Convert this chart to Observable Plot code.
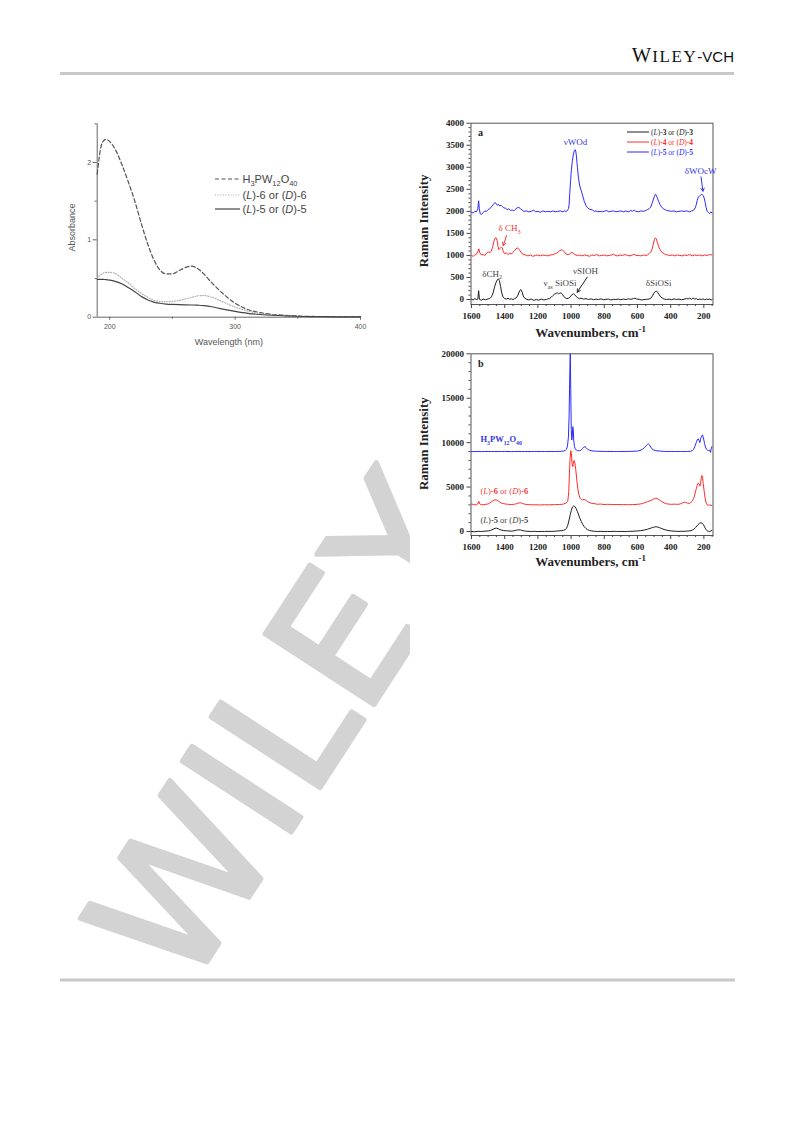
<!DOCTYPE html>
<html><head><meta charset="utf-8">
<script src="https://cdn.jsdelivr.net/npm/d3@7"></script>
<script src="https://cdn.jsdelivr.net/npm/@observablehq/plot@0.6"></script>
<style>
html,body{margin:0;padding:0;background:#fff;}
#page{position:relative;width:793px;height:1121px;overflow:hidden;background:#fff;}
.abs{position:absolute;}
.raman g[aria-label="x-axis tick label"] text,.raman g[aria-label="y-axis tick label"] text{font-weight:bold;}
</style></head><body><div id="page"></div>
<script>
// ---------------- DATA ----------------
// UV-vis (left)
const uvWavelength = [190,193,195,197,200,205,210,215,220,225,230,235,240,245,250,255,260,265,270,275,280,290,300,310,320,330,340,350,360,380,400];
const uvH3PW12O40  = [1.85,2.2,2.28,2.3,2.27,2.15,1.96,1.74,1.5,1.22,0.96,0.75,0.61,0.56,0.56,0.6,0.64,0.66,0.63,0.56,0.47,0.31,0.18,0.1,0.06,0.035,0.025,0.015,0.01,0.008,0.006];
const uvL6         = [0.5,0.55,0.57,0.58,0.58,0.56,0.5,0.44,0.37,0.31,0.26,0.22,0.205,0.2,0.205,0.215,0.235,0.255,0.275,0.28,0.265,0.2,0.13,0.08,0.05,0.03,0.02,0.012,0.008,0.005,0.005];
const uvL5         = [0.49,0.49,0.49,0.485,0.48,0.46,0.43,0.38,0.33,0.27,0.225,0.195,0.18,0.17,0.165,0.162,0.16,0.158,0.155,0.15,0.138,0.105,0.075,0.05,0.035,0.025,0.018,0.012,0.008,0.005,0.004];
const uvXTicks = [200,300,400];
const uvXMinor = [250,350];
const uvYTicks = [0,1,2];
const uvYMinor = [0.5,1.5,2.5];
const uvLegend = ["H{d:3}PW{d:12}O{d:40}","({i:L})-6 or ({i:D})-6","({i:L})-5 or ({i:D})-5"];

// Raman a  [wavenumber, intensity]
const ramanA_L3 = [[1600,10],[1590,-10],[1580,20],[1570,0],[1562,10],[1557,200],[1552,5],[1540,-15],[1530,10],[1515,-5],[1500,15],[1490,20],[1480,60],[1470,150],[1460,300],[1452,390],[1445,440],[1438,470],[1432,430],[1425,300],[1418,150],[1410,60],[1400,20],[1390,10],[1380,30],[1370,5],[1360,15],[1350,0],[1340,20],[1330,40],[1320,100],[1310,200],[1302,225],[1295,170],[1288,80],[1280,30],[1270,10],[1255,-10],[1240,10],[1225,-20],[1210,0],[1195,-15],[1180,10],[1165,-10],[1150,0],[1140,15],[1130,20],[1120,50],[1110,90],[1100,120],[1090,140],[1082,150],[1075,130],[1068,145],[1060,150],[1052,120],[1045,70],[1035,40],[1025,20],[1015,30],[1005,60],[995,110],[985,130],[978,110],[970,70],[960,40],[950,20],[940,30],[925,10],[910,20],[895,0],[880,15],[865,-5],[850,10],[835,0],[820,15],[805,-5],[790,5],[775,10],[760,-10],[745,5],[730,0],[715,10],[700,-5],[685,10],[670,0],[655,15],[640,5],[625,20],[615,30],[605,10],[590,5],[575,-10],[560,0],[545,5],[530,10],[520,30],[510,80],[500,150],[492,185],[485,190],[478,160],[470,110],[460,60],[450,30],[440,10],[425,0],[410,10],[395,-5],[380,15],[365,0],[350,10],[335,-5],[320,5],[305,25],[295,10],[285,30],[275,5],[265,35],[255,10],[245,20],[235,-5],[225,10],[215,0],[205,15],[195,-5],[185,10],[175,0],[165,10],[155,-10],[148,5]];
const ramanA_L4 = [[1600,1000],[1590,980],[1580,1010],[1570,1030],[1562,1080],[1556,1150],[1550,1060],[1540,1010],[1530,1020],[1520,1000],[1510,1050],[1500,1080],[1490,1060],[1480,1100],[1472,1200],[1465,1320],[1458,1390],[1452,1400],[1446,1340],[1440,1200],[1435,1130],[1428,1160],[1420,1190],[1414,1170],[1408,1080],[1400,1040],[1390,1060],[1380,1020],[1370,1050],[1360,1030],[1350,1070],[1340,1110],[1332,1150],[1325,1170],[1318,1160],[1310,1120],[1300,1060],[1290,1030],[1275,1010],[1260,990],[1245,1010],[1230,980],[1215,1000],[1200,1010],[1185,990],[1170,1010],[1155,1000],[1140,990],[1125,1010],[1110,1020],[1095,1040],[1080,1070],[1068,1110],[1058,1125],[1050,1120],[1040,1080],[1030,1030],[1020,1020],[1010,1030],[1000,1060],[994,1075],[988,1050],[978,1020],[965,1000],[950,1010],[935,990],[920,1010],[905,1000],[890,980],[875,1010],[860,1000],[845,1020],[830,990],[815,1000],[800,1010],[785,990],[770,1000],[755,1010],[745,1030],[735,1000],[720,990],[705,1010],[690,1000],[675,1020],[660,1000],[645,990],[630,1010],[620,1030],[610,1000],[595,1000],[580,990],[565,1010],[550,1000],[540,1010],[530,1040],[520,1080],[512,1140],[505,1250],[498,1360],[492,1400],[486,1370],[480,1290],[472,1200],[465,1140],[458,1100],[450,1060],[440,1040],[430,1020],[420,1010],[405,1000],[390,1010],[375,990],[360,1010],[345,1000],[330,990],[315,1010],[300,1000],[285,1020],[270,990],[255,1010],[240,1000],[225,1010],[210,990],[195,1010],[180,1000],[165,1020],[150,1010]];
const ramanA_L5 = [[1600,1980],[1590,1960],[1580,2000],[1570,1990],[1562,2050],[1557,2240],[1553,2060],[1548,1950],[1540,1930],[1530,1970],[1520,2010],[1510,2000],[1500,2040],[1490,2060],[1480,2100],[1470,2150],[1460,2200],[1452,2180],[1445,2140],[1438,2160],[1430,2120],[1422,2140],[1415,2110],[1405,2080],[1395,2070],[1385,2040],[1375,2060],[1365,2020],[1355,2030],[1345,2010],[1335,2050],[1325,2080],[1315,2090],[1305,2060],[1295,2030],[1285,2000],[1270,2010],[1255,1990],[1240,2000],[1225,2030],[1215,1990],[1200,2000],[1185,1980],[1170,2010],[1155,1990],[1140,2000],[1125,1990],[1110,2010],[1095,1990],[1080,2000],[1065,2010],[1050,1990],[1040,2010],[1030,2000],[1022,2020],[1016,2060],[1012,2150],[1008,2400],[1003,2700],[998,2950],[992,3150],[986,3300],[980,3380],[976,3400],[972,3370],[968,3260],[962,3000],[956,2780],[950,2620],[944,2530],[938,2460],[930,2350],[920,2220],[910,2130],[900,2080],[890,2050],[880,2040],[870,2030],[860,2000],[850,2010],[840,1990],[825,2000],[810,1990],[795,2010],[785,2020],[775,1990],[760,2000],[745,2010],[730,1990],[715,2000],[700,2010],[685,1990],[670,2010],[655,1990],[640,2020],[630,2000],[620,2030],[610,2000],[595,1990],[580,2010],[565,2000],[550,2020],[540,2040],[530,2060],[520,2100],[512,2180],[505,2260],[498,2340],[492,2390],[486,2360],[480,2300],[472,2220],[465,2160],[455,2100],[445,2060],[435,2040],[425,2020],[410,2010],[395,2000],[380,2010],[365,1990],[350,2000],[335,2010],[320,2000],[305,2010],[295,2000],[285,1990],[275,2010],[265,2020],[258,2040],[252,2080],[246,2150],[240,2250],[234,2320],[228,2340],[222,2360],[216,2380],[210,2380],[204,2360],[198,2300],[192,2200],[186,2080],[180,2000],[172,1970],[165,1950],[158,1990],[150,1960]];
const ramanXTicks = [1600,1400,1200,1000,800,600,400,200];
const ramanAYTicks = [0,500,1000,1500,2000,2500,3000,3500,4000];
const ramanALegend = ["({i:L})-{b:3} or ({i:D})-{b:3}","({i:L})-{b:4} or ({i:D})-{b:4}","({i:L})-{b:5} or ({i:D})-{b:5}"];
const ramanAAnnotations = [
  {w:973, i:3569, label:"νWOd", color:"#3535e0", anchor:"middle"},
  {w:220, i:2911, label:"δWOcW", color:"#3535e0", anchor:"middle"},
  {w:1371, i:1611, label:"δ CH{d:3}", color:"#f03a3a", anchor:"middle"},
  {w:1475, i:583, label:"δCH{d:2}", color:"#444", anchor:"middle"},
  {w:1166, i:363, label:"ν{d:as} SiOSi", color:"#444", anchor:"start"},
  {w:913, i:642, label:"νSIOH", color:"#444", anchor:"middle"},
  {w:473, i:370, label:"δSiOSi", color:"#444", anchor:"middle"}
];
const ramanAArrows = [
  {w1:217, i1:2782, w2:206, i2:2457, color:"#3535e0"},
  {w1:1389, i1:1452, w2:1409, i2:1225, color:"#f03a3a"},
  {w1:903, i1:506, w2:963, i2:166, color:"#222"}
];

// Raman b
const ramanB_L5 = [[1600,0],[1580,-30],[1560,20],[1540,0],[1520,40],[1500,60],[1485,120],[1470,250],[1458,360],[1450,380],[1440,320],[1430,220],[1420,160],[1405,100],[1390,80],[1375,60],[1360,40],[1345,80],[1330,150],[1318,190],[1305,170],[1290,100],[1275,40],[1260,20],[1240,0],[1220,20],[1200,-10],[1180,10],[1160,0],[1140,20],[1120,10],[1100,30],[1080,60],[1060,90],[1045,140],[1035,220],[1028,350],[1020,700],[1012,1300],[1005,1900],[998,2400],[992,2750],[985,2870],[978,2820],[970,2600],[962,2250],[954,1850],[946,1450],[938,1100],[930,800],[920,520],[910,330],[900,200],[890,120],[875,60],[860,30],[840,0],[820,20],[800,-10],[780,10],[760,0],[740,20],[720,0],[700,10],[680,-10],[660,10],[640,20],[620,40],[600,60],[580,100],[560,160],[540,250],[525,350],[510,440],[498,510],[488,530],[478,500],[466,420],[454,330],[440,230],[425,150],[410,90],[395,60],[380,40],[365,20],[350,10],[335,30],[320,20],[305,40],[290,60],[278,100],[268,180],[258,300],[250,450],[242,620],[235,770],[228,900],[222,970],[216,980],[210,930],[204,800],[198,600],[192,380],[186,200],[180,80],[172,20],[165,0],[158,60],[152,120]];
const ramanB_L6 = [[1600,3100],[1590,3050],[1580,3000],[1570,3020],[1562,3100],[1556,3400],[1550,3100],[1540,3000],[1530,3020],[1515,3050],[1500,3100],[1490,3200],[1480,3350],[1470,3480],[1460,3560],[1450,3560],[1440,3450],[1430,3300],[1420,3200],[1405,3120],[1390,3080],[1375,3050],[1360,3040],[1345,3060],[1330,3120],[1318,3200],[1305,3230],[1292,3150],[1280,3080],[1265,3040],[1250,3020],[1235,3000],[1220,3010],[1205,3000],[1190,2990],[1175,3000],[1160,3010],[1145,3000],[1130,3010],[1115,3020],[1100,3020],[1085,3030],[1070,3040],[1055,3060],[1045,3100],[1030,3200],[1020,3400],[1014,4500],[1010,6500],[1006,8200],[1002,9100],[998,8800],[994,7600],[990,7300],[986,7700],[982,8000],[978,7800],[972,7000],[966,5900],[960,4900],[954,4200],[946,3750],[938,3600],[930,3560],[922,3600],[914,3560],[906,3450],[895,3300],[882,3200],[868,3150],[855,3120],[840,3060],[825,3100],[810,3050],[795,3040],[780,3060],[765,3050],[750,3040],[735,3030],[720,3040],[705,3030],[690,3020],[675,3030],[660,3020],[645,3010],[630,3030],[615,3040],[600,3060],[585,3090],[570,3150],[555,3250],[540,3350],[525,3450],[512,3550],[500,3680],[490,3750],[480,3700],[468,3550],[455,3380],[440,3220],[425,3120],[410,3080],[395,3060],[380,3080],[365,3060],[350,3070],[340,3120],[330,3200],[320,3300],[310,3280],[300,3200],[290,3150],[280,3250],[270,3400],[262,3700],[254,4200],[246,4800],[240,5200],[234,5450],[228,5300],[224,5100],[220,5400],[216,6000],[212,6300],[208,6100],[204,5400],[198,4500],[192,3700],[186,3200],[180,3000],[172,2950],[165,3000],[158,2950],[150,2900]];
const ramanB_HPW = [[1600,9000],[1580,8990],[1560,9010],[1540,9000],[1520,9000],[1500,9010],[1480,9000],[1460,9010],[1440,9000],[1420,9000],[1400,9010],[1380,9000],[1360,8990],[1340,9000],[1320,9010],[1300,9000],[1280,9000],[1260,8990],[1240,9000],[1220,9000],[1200,9010],[1180,9000],[1160,9000],[1140,9000],[1120,9010],[1100,9000],[1080,9010],[1060,9030],[1045,9060],[1035,9120],[1028,9250],[1022,9600],[1016,10600],[1012,13000],[1008,17500],[1005,20000],[1002,16000],[999,11500],[996,10300],[993,10600],[990,11800],[987,11500],[984,10300],[980,9600],[975,9300],[968,9150],[960,9100],[950,9080],[940,9150],[930,9350],[922,9500],[916,9560],[910,9450],[900,9250],[890,9150],[875,9080],[860,9050],[840,9030],[820,9020],[800,9010],[780,9000],[760,9010],[740,9000],[720,9000],[700,9010],[680,9000],[660,9010],[640,9020],[620,9030],[600,9060],[585,9120],[570,9250],[558,9450],[548,9650],[540,9800],[534,9860],[528,9750],[520,9500],[510,9250],[500,9150],[490,9120],[480,9060],[470,9080],[460,9040],[445,9020],[430,9010],[415,9000],[400,9010],[385,9000],[370,9010],[355,9000],[340,9010],[325,9000],[310,9010],[300,9000],[290,9020],[280,9040],[270,9100],[262,9250],[254,9600],[246,10000],[240,10300],[234,10430],[228,10200],[224,10000],[220,10400],[214,10700],[208,10880],[204,10600],[200,10300],[196,9900],[190,9500],[184,9250],[178,9150],[172,9100],[165,9150],[160,8900],[156,9300],[150,9600]];
const ramanBYTicks = [0,5000,10000,15000,20000];
const ramanBAnnotations = [
  {w:1546, i:10355, label:"{b:H}{bd:3}{b:PW}{bd:12}{b:O}{bd:40}", color:"#3535e0"},
  {w:1546, i:4535, label:"({i:L}){b:-6} or ({i:D}){b:-6}", color:"#f03a3a"},
  {w:1546, i:1238, label:"({i:L}){b:-5} or ({i:D}){b:-5}", color:"#444"}
];

// ---------------- HELPERS ----------------
const SERIF = "'Liberation Serif','Times New Roman',serif";
const SANS = "'Liberation Sans',Arial,sans-serif";
const page = document.getElementById("page");
const NS = "http://www.w3.org/2000/svg";

function parseMarkup(s){
  const out=[]; const re=/\{(\w+):([^}]*)\}/g; let last=0,m;
  while((m=re.exec(s))){ if(m.index>last) out.push({t:s.slice(last,m.index),f:""}); out.push({t:m[2],f:m[1]}); last=re.lastIndex; }
  if(last<s.length) out.push({t:s.slice(last),f:""});
  return out;
}
function richify(root){
  root.querySelectorAll("text").forEach(t=>{
    const s=t.textContent; if(!s.includes("{")) return;
    const fs=parseFloat(getComputedStyle(t).fontSize)||10;
    const segs=parseMarkup(s); t.textContent=""; let shift=0;
    for(const g of segs){
      const ts=document.createElementNS(NS,"tspan"); ts.textContent=g.t;
      let target=0,size=null;
      if(g.f.includes("d")){target=fs*0.3;size=fs*0.68;}
      if(g.f.includes("u")){target=-fs*0.42;size=fs*0.68;}
      if(target!==shift){ts.setAttribute("dy",(target-shift).toFixed(2));shift=target;}
      if(size) ts.setAttribute("font-size",size.toFixed(2));
      if(g.f.includes("i")) ts.setAttribute("font-style","italic");
      if(g.f.includes("b")) ts.setAttribute("font-weight","bold");
      t.appendChild(ts);
    }
  });
}
function place(el,left,top){ el.classList.add("abs"); el.style.left=left+"px"; el.style.top=top+"px"; page.appendChild(el); return el; }
const rows = pairs => pairs.map(([w,i])=>({w,i}));
const notIn = arr => v => !arr.includes(v);

// ---------------- WATERMARK & PAGE FURNITURE ----------------
const deco = d3.create("svg").attr("width",793).attr("height",1121);
deco.append("text").attr("transform","translate(186,994) rotate(-57)")
  .attr("font-family","'DejaVu Sans',sans-serif").attr("font-size",178)
  .attr("fill","#d3d3d3").attr("stroke","#d3d3d3").attr("stroke-width",5).attr("stroke-linejoin","round").text("WILEY");
deco.append("rect").attr("x",410).attr("y",100).attr("width",345).attr("height",620).attr("fill","#fff");
deco.append("rect").attr("x",60).attr("y",72).attr("width",674).attr("height",3).attr("fill","#c8c8c8");
deco.append("rect").attr("x",60).attr("y",978.5).attr("width",675).attr("height",3).attr("fill","#c8c8c8");
const hdr = deco.append("text").attr("x",734).attr("y",62).attr("text-anchor","end").attr("fill","#111");
hdr.append("tspan").attr("font-family",SERIF).attr("font-size",20.5).attr("letter-spacing",1).text("W");
hdr.append("tspan").attr("font-family",SERIF).attr("font-size",17).attr("letter-spacing",1.6).text("ILEY");
hdr.append("tspan").attr("font-family",SANS).attr("font-size",15).text("-VCH");
place(deco.node(),0,0);

// ---------------- UV-VIS CHART ----------------
const uvRows = uvWavelength.map((x,k)=>({x, hpw:uvH3PW12O40[k], l6:uvL6[k], l5:uvL5[k]}));
const uv = Plot.plot({
  width:340, height:250, marginLeft:56.7, marginRight:20, marginTop:23.3, marginBottom:33.3,
  x:{domain:[190,400]}, y:{domain:[0,2.5]},
  style:{fontFamily:SANS, background:"#fff", color:"#555"},
  marks:[
    Plot.ruleY([0],{stroke:"#666"}),
    Plot.ruleX([190],{stroke:"#666"}),
    Plot.axisX({ticks:uvXTicks, tickSize:3, tickPadding:4, fontSize:7, tickFormat:d=>String(d), label:null, stroke:"#666", fill:"#555"}),
    Plot.axisX({ticks:uvXMinor, tickSize:2, text:null, label:null, stroke:"#666"}),
    Plot.axisY({ticks:uvYTicks, tickSize:4, tickPadding:2, fontSize:7, tickFormat:d=>String(d), label:null, stroke:"#666", fill:"#555"}),
    Plot.axisY({ticks:uvYMinor, tickSize:2, text:null, label:null, stroke:"#666"}),
    Plot.line(uvRows,{x:"x", y:"hpw", stroke:"#555", strokeWidth:1.2, strokeDasharray:"4,2.5", curve:"monotone-x"}),
    Plot.line(uvRows,{x:"x", y:"l6", stroke:"#aaa", strokeWidth:1.1, strokeDasharray:"1,1.6", curve:"monotone-x"}),
    Plot.line(uvRows,{x:"x", y:"l5", stroke:"#444", strokeWidth:1.2, curve:"monotone-x"}),
    Plot.text(["Absorbance"],{frameAnchor:"left", dx:-24.7, dy:7, rotate:-90, textAnchor:"middle", lineAnchor:"middle", fontSize:9, fill:"#555"}),
    Plot.text(["Wavelength (nm)"],{frameAnchor:"bottom", dy:25, lineAnchor:"middle", fontSize:9, fill:"#555"})
  ]
});
{
  const s=d3.select(uv); const styles=[{dash:"4,2.5",c:"#555"},{dash:null,c:"#aaa",dot:true},{dash:null,c:"#444"}];
  styles[1].dash="1,1.6";
  const ys=[79,95,109];
  uvLegend.forEach((lab,k)=>{
    s.append("line").attr("x1",175).attr("x2",200).attr("y1",ys[k]).attr("y2",ys[k]).attr("stroke",styles[k].c).attr("stroke-width",1.2).attr("stroke-dasharray",styles[k].dash);
    s.append("text").attr("x",202.5).attr("y",ys[k]).attr("dy","0.35em").attr("text-anchor","start").attr("font-size",11).attr("fill","#444").text(lab);
  });
}
place(uv,40,100); richify(uv);

// ---------------- RAMAN PLOTS ----------------
const xMinor = d3.range(150,1601,50).filter(notIn(ramanXTicks));
function ramanAxes(yTicks,yMinor){
  return [
    Plot.frame({stroke:"#555"}),
    Plot.axisX({ticks:ramanXTicks, tickSize:4, tickPadding:4, fontSize:9, fontWeight:"bold", tickFormat:d3.format("d"), label:null, stroke:"#444", fill:"#222"}),
    Plot.axisX({ticks:xMinor, tickSize:2, text:null, label:null, stroke:"#444"}),
    Plot.axisY({ticks:yTicks, tickSize:4, tickPadding:3, fontSize:9, fontWeight:"bold", tickFormat:d3.format("d"), label:null, stroke:"#444", fill:"#222"}),
    Plot.axisY({ticks:yMinor, tickSize:2, text:null, label:null, stroke:"#444"})
  ];
}
const series = (data,color)=>Plot.line(rows(data),{x:"w", y:"i", stroke:color, strokeWidth:1, clip:true});
const titleOpts = {fontSize:13, fontWeight:"bold", fill:"#222", textAnchor:"middle", lineAnchor:"middle"};

const rA = Plot.plot({
  width:340, height:230, marginLeft:60.5, marginRight:37.5, marginTop:12.7, marginBottom:36,
  x:{domain:[1603,145]}, y:{domain:[-113,4000]}, color:{type:"identity"},
  style:{fontFamily:SERIF, background:"#fff", color:"#222"},
  marks:[
    ...ramanAxes(ramanAYTicks, d3.range(0,4001,100).filter(notIn(ramanAYTicks))),
    series(ramanA_L3,"#1e1e1e"), series(ramanA_L4,"#ff2a2a"), series(ramanA_L5,"#2a2aff"),
    Plot.arrow(ramanAArrows,{x1:"w1",y1:"i1",x2:"w2",y2:"i2",stroke:"color",strokeWidth:1,headLength:5}),
    Plot.text(ramanAAnnotations.filter(d=>d.anchor==="middle"),{x:"w",y:"i",text:"label",fill:"color",fontSize:9}),
    Plot.text(ramanAAnnotations.filter(d=>d.anchor==="start"),{x:"w",y:"i",text:"label",fill:"color",fontSize:9,textAnchor:"start"}),
    Plot.text(["a"],{frameAnchor:"top-left", dx:7, dy:6, fontSize:10, fontWeight:"bold", fill:"#222"}),
    Plot.text(["Raman Intensity"],{frameAnchor:"left", dx:-47.5, dy:7, rotate:-90, ...titleOpts}),
    Plot.text(["Wavenumbers, cm{u:-1}"],{frameAnchor:"bottom", dx:-1.5, dy:28.7, ...titleOpts})
  ]
});
rA.classList.add("raman");
{
  const s=d3.select(rA); const cols=["#1e1e1e","#ff2a2a","#2a2aff"]; const ys=[22,32,42];
  ramanALegend.forEach((lab,k)=>{
    s.append("line").attr("x1",217).attr("x2",239).attr("y1",ys[k]).attr("y2",ys[k]).attr("stroke",cols[k]).attr("stroke-width",1);
    s.append("text").attr("x",241).attr("y",ys[k]).attr("dy","0.35em").attr("text-anchor","start").attr("font-size",7.5).attr("fill",cols[k]).text(lab);
  });
}
place(rA,410,110); richify(rA);

const rB = Plot.plot({
  width:340, height:240, marginLeft:60.5, marginRight:37.5, marginTop:13.3, marginBottom:45,
  x:{domain:[1603,145]}, y:{domain:[-450,20000]}, color:{type:"identity"},
  style:{fontFamily:SERIF, background:"#fff", color:"#222"},
  marks:[
    ...ramanAxes(ramanBYTicks, d3.range(0,20001,1000).filter(notIn(ramanBYTicks))),
    series(ramanB_L5,"#1e1e1e"), series(ramanB_L6,"#ff2a2a"), series(ramanB_HPW,"#2a2aff"),
    Plot.text(ramanBAnnotations,{x:"w",y:"i",text:"label",fill:"color",fontSize:8.5,textAnchor:"start"}),
    Plot.text(["b"],{frameAnchor:"top-left", dx:7, dy:6, fontSize:10, fontWeight:"bold", fill:"#222"}),
    Plot.text(["Raman Intensity"],{frameAnchor:"left", dx:-47.5, dy:-1, rotate:-90, ...titleOpts}),
    Plot.text(["Wavenumbers, cm{u:-1}"],{frameAnchor:"bottom", dx:-1.5, dy:26.7, ...titleOpts})
  ]
});
rB.classList.add("raman");
place(rB,410,340); richify(rB);
</script></body></html>
